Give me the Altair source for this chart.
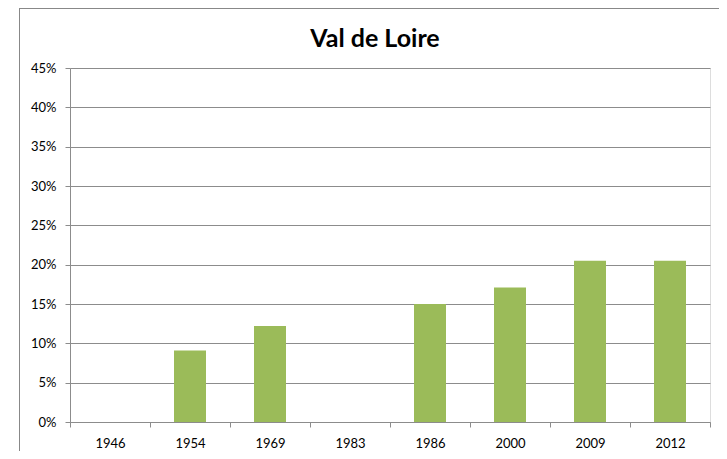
import altair as alt
import pandas as pd

years = ["1946", "1954", "1969", "1983", "1986", "2000", "2009", "2012"]
shares = [0.0, 0.091, 0.122, 0.0, 0.150, 0.171, 0.205, 0.205]
y_ticks = [0, 0.05, 0.10, 0.15, 0.20, 0.25, 0.30, 0.35, 0.40, 0.45]

df = pd.DataFrame({"annee": years, "part": shares})

FONT = "Lato"
GRAY = "#8c8c8c"

bars = alt.Chart(df).mark_bar(color="#9BBB59", width=alt.RelativeBandSize(0.4)).encode(
    x=alt.X("annee:N", sort=years,
            scale=alt.Scale(paddingInner=0, paddingOuter=0),
            axis=alt.Axis(title=None, labelAngle=0, tickBand="extent",
                          labelFontSize=13, labelFont=FONT, labelColor="#000",
                          labelPadding=10, tickSize=5, tickColor=GRAY,
                          domainColor=GRAY, grid=False)),
    y=alt.Y("part:Q", scale=alt.Scale(domain=[0, 0.45], nice=False),
            axis=alt.Axis(title=None, format=".0%", values=y_ticks,
                          labelFontSize=13, labelFont=FONT, labelColor="#000",
                          labelPadding=9, tickSize=5, tickColor=GRAY,
                          domainColor=GRAY, gridColor=GRAY, gridWidth=1)),
)

frame = alt.Chart(df).mark_rect(fillOpacity=0, stroke="#888", strokeWidth=1).encode(
    x=alt.value(-50.5), x2=alt.value(720), y=alt.value(-59.5), y2=alt.value(430)
)

chart = alt.layer(frame, bars).properties(
    width=640,
    height=354,
    autosize=alt.AutoSizeParams(type="none"),
    padding={"left": 62, "top": 60, "right": 9, "bottom": 29},
    title=alt.TitleParams("Val de Loire", font=FONT, fontSize=25, fontWeight="bold",
                          color="#000", anchor="middle", frame="group",
                          baseline="bottom", offset=-69, dx=-15),
).configure_view(stroke=None).configure(background="white")

chart.save("out.html", embed_options={"renderer": "svg", "actions": False})
